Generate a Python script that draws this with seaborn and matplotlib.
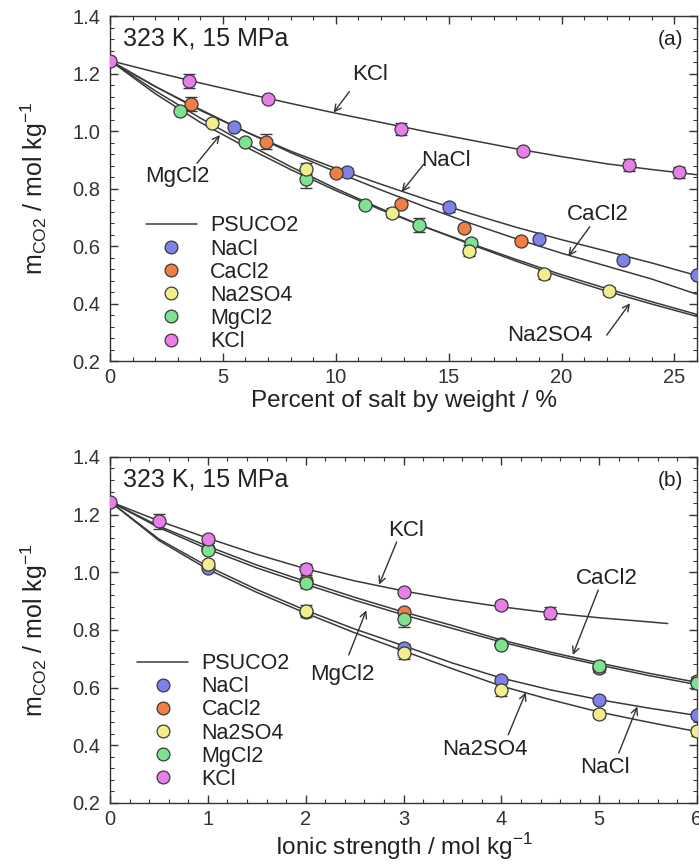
import numpy as np
import pandas as pd
import matplotlib
matplotlib.use("Agg")
import matplotlib.pyplot as plt
from matplotlib.lines import Line2D
from matplotlib.ticker import MultipleLocator
import seaborn as sns

sns.set_theme(style="ticks")
plt.rcParams['font.family'] = ['Liberation Sans', 'DejaVu Sans']
plt.rcParams['mathtext.fontset'] = 'custom'
plt.rcParams['mathtext.rm'] = 'Liberation Sans'

# ---------------- data: panel (a) percent of salt by weight ----------------
wt_grid = [0, 2, 4, 6, 8, 10, 12, 14, 16, 18, 20, 22, 24, 26]
wt_model_nacl = [1.245, 1.155, 1.072, 0.998, 0.930, 0.870, 0.815, 0.762, 0.712, 0.665, 0.622, 0.582, 0.541, 0.497]
wt_model_cacl2 = [1.245, 1.155, 1.075, 0.998, 0.925, 0.858, 0.795, 0.735, 0.678, 0.625, 0.575, 0.530, 0.485, 0.432]
wt_model_na2so4 = [1.245, 1.140, 1.045, 0.958, 0.876, 0.800, 0.730, 0.665, 0.605, 0.547, 0.492, 0.443, 0.398, 0.355]
wt_model_mgcl2 = [1.245, 1.130, 1.030, 0.945, 0.866, 0.793, 0.726, 0.665, 0.608, 0.553, 0.500, 0.452, 0.406, 0.362]
wt_model_kcl = [1.245, 1.205, 1.167, 1.131, 1.096, 1.062, 1.030, 0.998, 0.968, 0.938, 0.911, 0.886, 0.866, 0.848]

wt_nacl_x = [5.5, 10.5, 15.0, 19.0, 22.7, 26.0]
wt_nacl_y = [1.015, 0.858, 0.735, 0.623, 0.551, 0.499]
wt_nacl_e = [0.008, 0.012, 0.015, 0.008, 0.008, 0.010]
wt_cacl2_x = [3.6, 6.9, 10.0, 12.9, 15.7, 18.2]
wt_cacl2_y = [1.094, 0.963, 0.853, 0.745, 0.664, 0.618]
wt_cacl2_e = [0.025, 0.025, 0.010, 0.010, 0.010, 0.008]
wt_na2so4_x = [4.5, 8.7, 12.5, 15.9, 19.2, 22.1]
wt_na2so4_y = [1.029, 0.869, 0.716, 0.584, 0.502, 0.443]
wt_na2so4_e = [0.008, 0.020, 0.015, 0.020, 0.015, 0.015]
wt_mgcl2_x = [3.1, 6.0, 8.7, 11.3, 13.7, 16.0]
wt_mgcl2_y = [1.071, 0.961, 0.833, 0.743, 0.673, 0.611]
wt_mgcl2_e = [0.008, 0.008, 0.030, 0.008, 0.025, 0.012]
wt_kcl_x = [0.0, 3.5, 7.0, 12.9, 18.3, 23.0, 25.2]
wt_kcl_y = [1.245, 1.174, 1.112, 1.007, 0.930, 0.881, 0.856]
wt_kcl_e = [0.008, 0.025, 0.010, 0.020, 0.006, 0.020, 0.020]

# ---------------- data: panel (b) ionic strength ----------------
is_grid = [0, 0.5, 1, 1.5, 2, 2.5, 3, 3.5, 4, 4.5, 5, 5.5, 6]
is_model_nacl = [1.245, 1.115, 1.020, 0.940, 0.868, 0.803, 0.745, 0.685, 0.633, 0.592, 0.558, 0.529, 0.503]
is_model_cacl2 = [1.245, 1.160, 1.090, 1.025, 0.968, 0.913, 0.862, 0.815, 0.765, 0.723, 0.685, 0.650, 0.618]
is_model_na2so4 = [1.245, 1.110, 1.010, 0.930, 0.858, 0.790, 0.727, 0.665, 0.605, 0.558, 0.515, 0.480, 0.447]
is_model_mgcl2 = [1.245, 1.155, 1.080, 1.015, 0.958, 0.903, 0.852, 0.805, 0.758, 0.716, 0.678, 0.642, 0.610]
is_kcl_grid = [0, 0.5, 1, 1.5, 2, 2.5, 3, 3.5, 4, 4.5, 5, 5.5, 5.7]
is_model_kcl = [1.245, 1.178, 1.118, 1.062, 1.012, 0.970, 0.935, 0.905, 0.880, 0.859, 0.842, 0.828, 0.822]

is_nacl_x = [1, 2, 3, 4, 5, 6]
is_nacl_y = [1.015, 0.862, 0.738, 0.626, 0.557, 0.505]
is_nacl_e = [0.008, 0.010, 0.012, 0.008, 0.010, 0.010]
is_cacl2_x = [1, 2, 3, 4, 5, 6]
is_cacl2_y = [1.080, 0.968, 0.861, 0.752, 0.668, 0.622]
is_cacl2_e = [0.010, 0.010, 0.012, 0.008, 0.015, 0.015]
is_na2so4_x = [1, 2, 3, 4, 5, 6]
is_na2so4_y = [1.030, 0.866, 0.719, 0.592, 0.508, 0.448]
is_na2so4_e = [0.010, 0.020, 0.020, 0.020, 0.015, 0.015]
is_mgcl2_x = [1, 2, 3, 4, 5, 6]
is_mgcl2_y = [1.076, 0.964, 0.836, 0.748, 0.673, 0.615]
is_mgcl2_e = [0.010, 0.020, 0.025, 0.008, 0.020, 0.020]
is_kcl_x = [0.0, 0.5, 1.0, 2.0, 3.0, 4.0, 4.5]
is_kcl_y = [1.245, 1.176, 1.114, 1.010, 0.932, 0.886, 0.859]
is_kcl_e = [0.008, 0.025, 0.012, 0.020, 0.010, 0.015, 0.020]

salts = ["NaCl", "CaCl2", "Na2SO4", "MgCl2", "KCl"]
colors = {"NaCl": "#7f80e8", "CaCl2": "#f07f45", "Na2SO4": "#f2ee8c",
          "MgCl2": "#7de38e", "KCl": "#ea7ee8"}
LINE_C = "#3a3a3a"
EDGE_C = "#3a3a3a"
TXT_C = "#222222"

fig = plt.figure(figsize=(6.99, 8.67), dpi=100)
axA = fig.add_axes([0.1574, 0.5836, 0.8398, 0.3979])
axB = fig.add_axes([0.1574, 0.0740, 0.8398, 0.3990])


def draw_panel(ax, models, points):
    for gx, gy in models:
        sns.lineplot(x=gx, y=gy, ax=ax, color=LINE_C, lw=1.1, sort=False,
                     estimator=None, zorder=2)
    for name, (px, py, pe) in points:
        ax.errorbar(px, py, yerr=pe, fmt="none", ecolor=EDGE_C, elinewidth=1.0,
                    capsize=4.5, capthick=1.0, zorder=3)
        sns.scatterplot(x=px, y=py, ax=ax, s=88, color=colors[name],
                        edgecolor=EDGE_C, linewidth=0.9, zorder=4)


draw_panel(axA,
           [(wt_grid, wt_model_kcl), (wt_grid, wt_model_nacl), (wt_grid, wt_model_cacl2),
            (wt_grid, wt_model_na2so4), (wt_grid, wt_model_mgcl2)],
           [("NaCl", (wt_nacl_x, wt_nacl_y, wt_nacl_e)),
            ("CaCl2", (wt_cacl2_x, wt_cacl2_y, wt_cacl2_e)),
            ("MgCl2", (wt_mgcl2_x, wt_mgcl2_y, wt_mgcl2_e)),
            ("Na2SO4", (wt_na2so4_x, wt_na2so4_y, wt_na2so4_e)),
            ("KCl", (wt_kcl_x, wt_kcl_y, wt_kcl_e))])

draw_panel(axB,
           [(is_kcl_grid, is_model_kcl), (is_grid, is_model_nacl), (is_grid, is_model_cacl2),
            (is_grid, is_model_na2so4), (is_grid, is_model_mgcl2)],
           [("NaCl", (is_nacl_x, is_nacl_y, is_nacl_e)),
            ("CaCl2", (is_cacl2_x, is_cacl2_y, is_cacl2_e)),
            ("MgCl2", (is_mgcl2_x, is_mgcl2_y, is_mgcl2_e)),
            ("Na2SO4", (is_na2so4_x, is_na2so4_y, is_na2so4_e)),
            ("KCl", (is_kcl_x, is_kcl_y, is_kcl_e))])

ylab = r"m$_\mathregular{CO2}$ / mol kg$^\mathregular{-1}$"
for ax, xmax, maj, mn, xlab in [(axA, 26, 5, 1, "Percent of salt by weight / %"),
                                (axB, 6, 1, 0.2, r"Ionic strength / mol kg$^\mathregular{-1}$")]:
    ax.set_xlim(0, xmax)
    ax.set_ylim(0.2, 1.4)
    ax.xaxis.set_major_locator(MultipleLocator(maj))
    ax.xaxis.set_minor_locator(MultipleLocator(mn))
    ax.yaxis.set_minor_locator(MultipleLocator(0.04))
    ax.set_yticks([0.2, 0.4, 0.6, 0.8, 1.0, 1.2, 1.4])
    ax.set_yticklabels(["0.2", "0.4", "0.6", "0.8", "1.0", "1.2", "1.4"])
    ax.tick_params(which="both", direction="in", top=True, right=True,
                   labelsize=14.5, colors="#333333")
    ax.tick_params(axis="y", pad=7)
    ax.tick_params(axis="x", pad=5)
    ax.tick_params(which="major", length=6, width=1.0)
    ax.tick_params(which="minor", length=3, width=0.8)
    for sp in ax.spines.values():
        sp.set_color("#333333")
        sp.set_linewidth(1.0)
    ax.set_xlabel(xlab, fontsize=17.5, color=TXT_C, labelpad=2)
    ax.set_ylabel(ylab, fontsize=18, color=TXT_C, labelpad=16)
    ax.text(0.022, 0.935, "323 K, 15 MPa", transform=ax.transAxes, fontsize=18,
            color=TXT_C, ha="left", va="center")

axA.text(0.955, 0.932, "(a)", transform=axA.transAxes, fontsize=15,
         color=TXT_C, ha="center", va="center")
axB.text(0.955, 0.932, "(b)", transform=axB.transAxes, fontsize=15,
         color=TXT_C, ha="center", va="center")

arrow_kw = dict(arrowstyle="->", color="#333333", lw=1.0, mutation_scale=12,
                shrinkA=0, shrinkB=0)
ann_fs = 16


def label_arrow(ax, text, text_xy, start, tip):
    ax.text(text_xy[0], text_xy[1], text, fontsize=ann_fs, color=TXT_C,
            ha="center", va="center")
    ax.annotate("", xy=tip, xytext=start, arrowprops=arrow_kw)


label_arrow(axA, "KCl", (11.5, 1.195), (10.6, 1.137), (9.9, 1.064))
label_arrow(axA, "MgCl2", (3.0, 0.841), (3.85, 0.888), (4.87, 0.986))
label_arrow(axA, "NaCl", (14.9, 0.899), (13.9, 0.885), (12.92, 0.789))
label_arrow(axA, "CaCl2", (21.6, 0.708), (21.25, 0.667), (20.3, 0.565))
label_arrow(axA, "Na2SO4", (19.5, 0.290), (22.0, 0.290), (23.03, 0.401))

label_arrow(axB, "KCl", (3.03, 1.145), (2.93, 1.105), (2.75, 0.957))
label_arrow(axB, "CaCl2", (5.08, 0.978), (4.99, 0.938), (4.73, 0.713))
label_arrow(axB, "MgCl2", (2.37, 0.644), (2.44, 0.713), (2.62, 0.868))
label_arrow(axB, "Na2SO4", (3.83, 0.384), (4.07, 0.436), (4.25, 0.583))
label_arrow(axB, "NaCl", (5.06, 0.321), (5.2, 0.373), (5.39, 0.534))

handles = [Line2D([0], [0], color=LINE_C, lw=1.1)]
for name in salts:
    handles.append(Line2D([0], [0], marker="o", ls="none", markersize=9.2,
                          markerfacecolor=colors[name], markeredgecolor=EDGE_C,
                          markeredgewidth=0.9))
labels = ["PSUCO2"] + salts
for ax, anchor in [(axA, (0.035, -0.018)), (axB, (0.02, -0.006))]:
    leg = ax.legend(handles, labels, loc="lower left", bbox_to_anchor=anchor,
                    frameon=False, fontsize=15.5, handlelength=2.4,
                    handletextpad=0.6, labelspacing=0.1, borderpad=0.2)
    for t in leg.get_texts():
        t.set_color(TXT_C)

fig.savefig("out.png", dpi=100)
